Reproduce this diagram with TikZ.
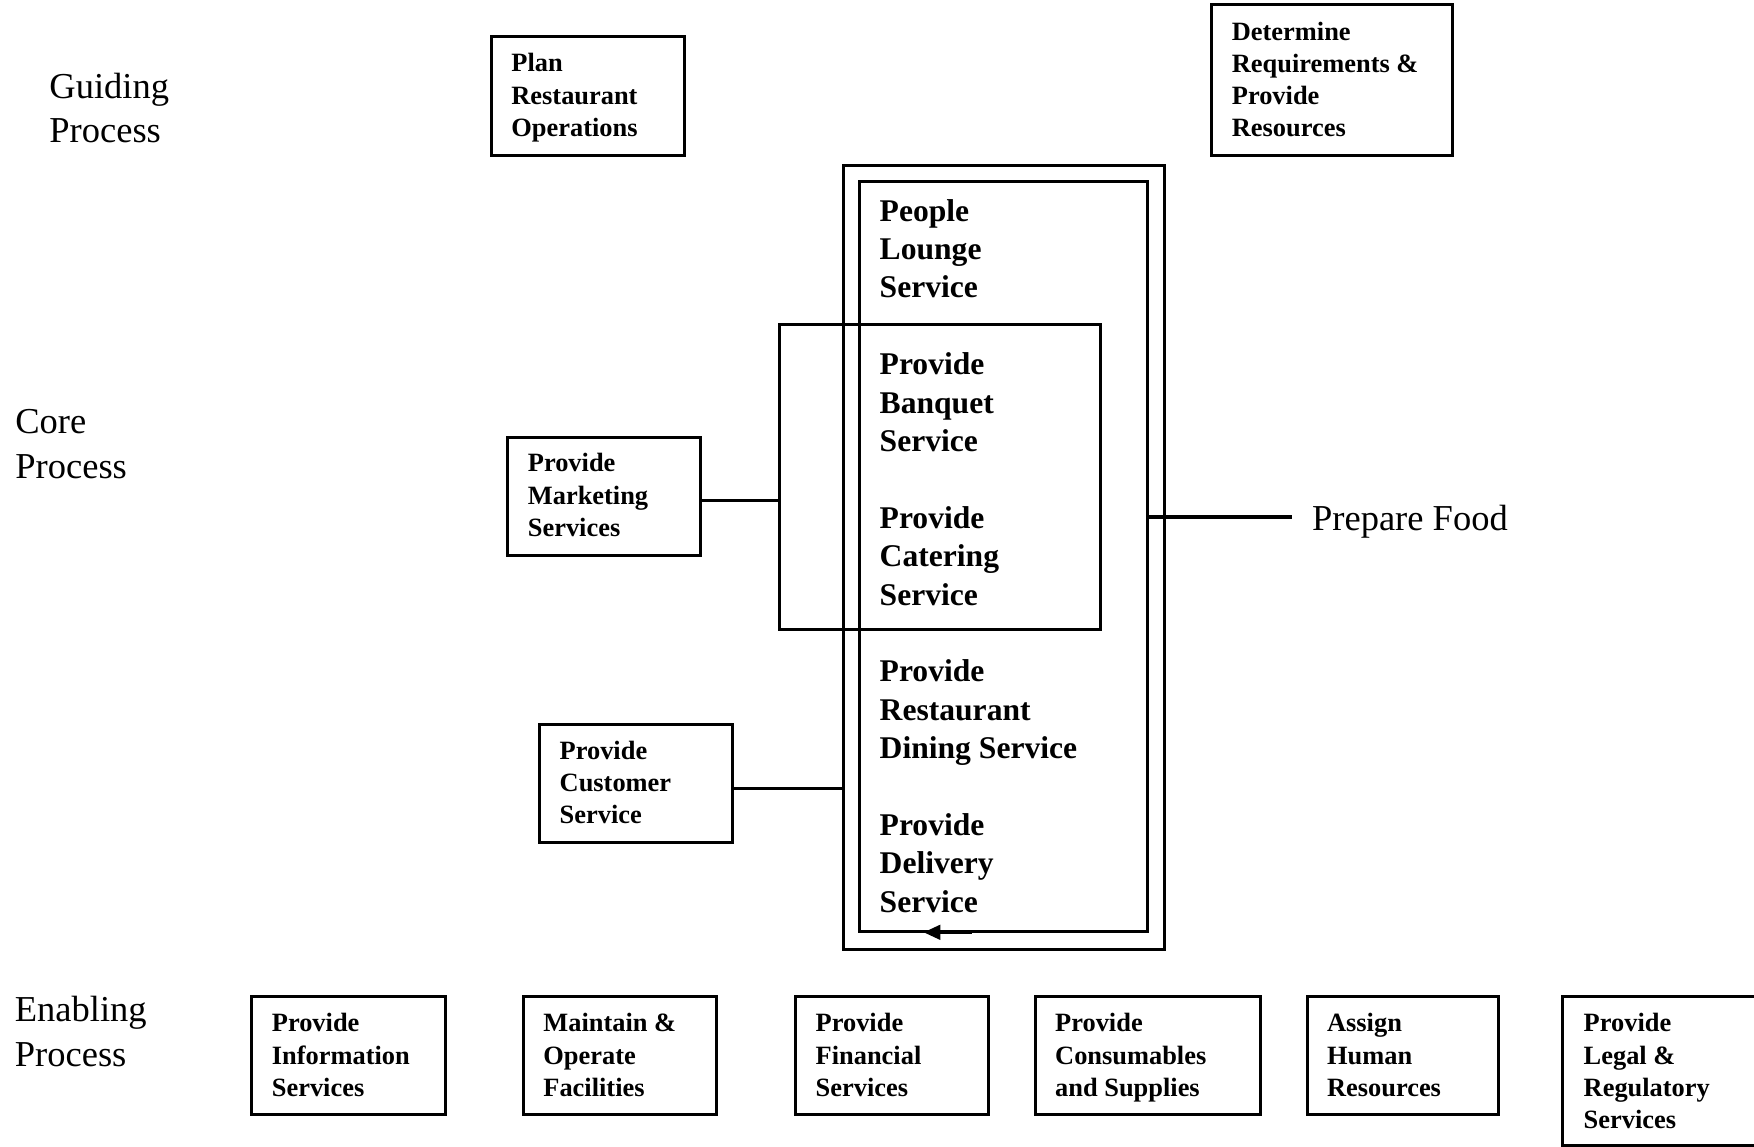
\documentclass[tikz,border=0pt]{standalone}
\usepackage{fontspec}
\setmainfont{Liberation Serif}
\usetikzlibrary{fit,arrows.meta}
% left-aligned line stack whose baseline is that of its first line
\newcommand{\linestack}[1]{\begin{tabular}[t]{@{}l@{}}#1\end{tabular}}
\begin{document}
\begin{tikzpicture}[x=0.5pt,y=-0.5pt,
  rule/.style={line width=1.5pt},
  link/.style={line width=1.7pt},
  procbox/.style={draw,rule,inner sep=0pt},
  tier/.style={anchor=base west,inner sep=0pt,font=\fontsize{18.25}{22.4}\selectfont},
  boxtext/.style={anchor=base west,inner sep=0pt,font=\fontsize{13.2}{16.15}\selectfont\bfseries},
  coretext/.style={anchor=base west,inner sep=0pt,font=\fontsize{15.8}{19.2}\selectfont\bfseries},
]
\clip (0,0) rectangle (1754,1146);

% process tiers
\node[tier] (tguide) at (49,98) {\linestack{Guiding\\Process}};
\node[tier] (tcore) at (15,433.5) {\linestack{Core\\Process}};
\node[tier] (tenable) at (14.5,1021.5) {\linestack{Enabling\\Process}};

% guiding processes
\node[procbox,fit={(491,36) (684,155)}] (plan) {};
\node[boxtext] (plantxt) at (511,71.7) {\linestack{Plan\\Restaurant\\Operations}};
\node[procbox,fit={(1211,4) (1452.5,155)}] (determine) {};
\node[boxtext] (dettxt) at (1231.5,40) {\linestack{Determine\\Requirements \&\\Provide\\Resources}};

% core service frames
\node[procbox,fit={(843.3,165) (1164,949.3)}] (outer) {};
\node[procbox,fit={(859.3,181) (1147.7,931.3)}] (inner) {};
\node[procbox,fit={(779.3,324.3) (1100,629)}] (banq) {};

\node[coretext] (lounge) at (879.3,221) {\linestack{People\\Lounge\\Service}};
\node[coretext] (banquet) at (879.3,374.6) {\linestack{Provide\\Banquet\\Service}};
\node[coretext] (catering) at (879.3,528.2) {\linestack{Provide\\Catering\\Service}};
\node[coretext] (dining) at (879.3,681.8) {\linestack{Provide\\Restaurant\\Dining Service}};
\node[coretext] (delivery) at (879.3,835.4) {\linestack{Provide\\Delivery\\Service}};

% flow arrow along the bottom of the service column
\coordinate (arrtail) at (971.7,932.3);
\coordinate (arrtip) at (923.3,932.3);
\draw[line width=2.1pt,-{Triangle[length=8.5pt,width=7pt]}] (arrtail) -- (arrtip);

% supporting core processes
\node[procbox,fit={(507,437) (700.5,555)}] (mkt) {};
\node[boxtext] (mkttxt) at (527.5,471.7) {\linestack{Provide\\Marketing\\Services}};
\node[procbox,fit={(539,724.3) (732.7,842.7)}] (cust) {};
\node[boxtext] (custtxt) at (559.3,759.3) {\linestack{Provide\\Customer\\Service}};

\draw[link] (mkt.east |- 0,500.7) -- (banq.west |- 0,500.7);
\draw[link] (cust.east |- 0,788.3) -- (outer.west |- 0,788.3);

\coordinate (foodend) at (1291.7,517);
\draw[link] (inner.east |- foodend) -- (foodend);
\node[tier] (food) at (1311.7,530) {Prepare Food};

% enabling processes
\node[procbox,fit={(251.5,996.5) (445,1114)}] (info) {};
\node[boxtext] (infotxt) at (271.5,1031.7) {\linestack{Provide\\Information\\Services}};
\node[procbox,fit={(523,996.5) (716.4,1114)}] (facil) {};
\node[boxtext] (faciltxt) at (543,1031.7) {\linestack{Maintain \&\\Operate\\Facilities}};
\node[procbox,fit={(795.3,996.5) (988.8,1114)}] (fin) {};
\node[boxtext] (fintxt) at (815.3,1031.7) {\linestack{Provide\\Financial\\Services}};
\node[procbox,fit={(1035.5,996.5) (1260,1114)}] (supply) {};
\node[boxtext] (supplytxt) at (1054.8,1031.7) {\linestack{Provide\\Consumables\\and Supplies}};
\node[procbox,fit={(1307.3,996.5) (1498,1114)}] (hr) {};
\node[boxtext] (hrtxt) at (1326.7,1031.7) {\linestack{Assign\\Human\\Resources}};
\node[procbox,fit={(1562.7,996.7) (1790,1145)}] (legal) {};
\node[boxtext] (legaltxt) at (1583.3,1031.7) {\linestack{Provide\\Legal \&\\Regulatory\\Services}};
\end{tikzpicture}
\end{document}
